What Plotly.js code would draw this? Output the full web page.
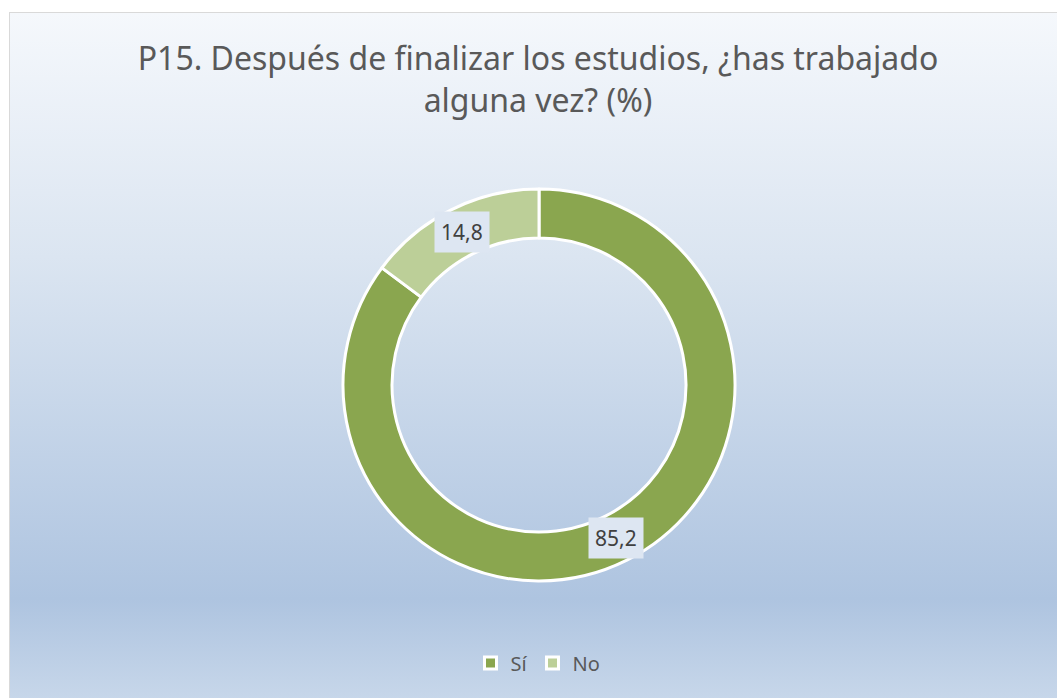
<!DOCTYPE html>
<html>
<head>
<meta charset="utf-8">
<script src="https://cdn.plot.ly/plotly-3.0.1.min.js"></script>
<style>
  html, body { margin:0; padding:0; background:#ffffff; width:1057px; height:698px; overflow:hidden; }
  #frame { position:absolute; left:9px; top:12px; width:1060px; height:700px; box-sizing:border-box;
           border:1px solid #d9d9d9;
           background: linear-gradient(to bottom, #f5f8fc 0%, #dbe5f1 35%, #aec4e0 84%, #cad9eb 100%); }
  #chart { position:absolute; left:0; top:0; width:1057px; height:698px; }
</style>
</head>
<body>
<div id="frame"></div>
<div id="chart"></div>
<script>
const categories = ["Sí", "No"];
const values = [85.2, 14.8];
const valueLabels = ["85,2", "14,8"];
const colors = ["#8aa64f", "#bccf98"];
const titleText = "P15. Después de finalizar los estudios, ¿has trabajado<br>alguna vez? (%)";

const W = 1057, H = 698;
const domX = [0.3245, 0.6954];
const domY = [0.1676, 0.7292];
const hole = 0.75;

// label positions at slice mid-angle, mid-ring radius (computed from the data)
const total = values.reduce((a, b) => a + b, 0);
const cx = (domX[0] + domX[1]) / 2 * W;
const cy = (domY[0] + domY[1]) / 2 * H;
const R = Math.min((domX[1] - domX[0]) * W, (domY[1] - domY[0]) * H) / 2;
const rMid = R * (1 + hole) / 2;
let cum = 0;
const annotations = values.map((v, i) => {
  const mid = (cum + v / 2) / total * 2 * Math.PI; // clockwise from top
  cum += v;
  const px = cx + rMid * Math.sin(mid);
  const py = cy + rMid * Math.cos(mid);
  return {
    x: px / W, y: py / H, xref: "paper", yref: "paper",
    xanchor: "center", yanchor: "middle", showarrow: false,
    text: valueLabels[i],
    font: { family: "Noto Sans, Open Sans, sans-serif", size: 21, color: "#404040" },
    bgcolor: "#dde6f2", bordercolor: "rgba(0,0,0,0)", borderpad: 6
  };
});

const data = [{
  type: "pie",
  labels: categories,
  values: values,
  hole: hole,
  sort: false,
  direction: "clockwise",
  rotation: 0,
  textinfo: "none",
  hoverinfo: "label+value",
  marker: { colors: colors, line: { color: "#ffffff", width: 3 } },
  domain: { x: domX, y: domY }
}];

const layout = {
  width: W, height: H,
  margin: { l: 0, r: 0, t: 0, b: 0 },
  paper_bgcolor: "rgba(0,0,0,0)",
  plot_bgcolor: "rgba(0,0,0,0)",
  title: {
    text: titleText,
    font: { family: "Noto Sans, Open Sans, sans-serif", size: 32, color: "#595959" },
    x: 0.509, xanchor: "center", y: 0.899, yanchor: "middle", yref: "paper"
  },
  showlegend: true,
  legend: {
    orientation: "h", x: 0.509, xanchor: "center", y: 0.05, yanchor: "middle",
    font: { family: "Noto Sans, Open Sans, sans-serif", size: 20, color: "#595959" },
    bgcolor: "rgba(0,0,0,0)", itemwidth: 30
  },
  annotations: annotations
};

Plotly.newPlot("chart", data, layout, { displayModeBar: false });
</script>
</body>
</html>
